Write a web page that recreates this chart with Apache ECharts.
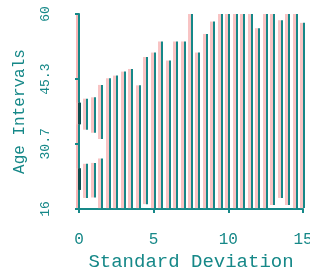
<!DOCTYPE html>
<html>
<head>
<meta charset="utf-8">
<script src="https://cdn.jsdelivr.net/npm/echarts@6/dist/echarts.min.js"></script>
<style>
  html, body { margin: 0; padding: 0; background: #fff; }
  #chart { width: 310px; height: 271px; }
</style>
</head>
<body>
<div id="chart"></div>
<script>
// 每条竖线: 标准差位置, 年龄区间下限, 上限
const sdX = [0, 0, 0.5, 0.5, 1, 1, 1.5, 1.5, 2, 2.5, 3, 3.5, 4, 4.5, 5, 5.5, 6, 6.5, 7, 7.5,
  8, 8.5, 9, 9.5, 10, 10.5, 11, 11.5, 12, 12.5, 13, 13.5, 14, 14.5, 15];
const ageLow = [35.1, 20.3, 33.9, 18.5, 33.2, 18.6, 31.8, 16.2, 16.2, 16.2, 16.2, 16.2, 16.2, 17.1, 16.2, 16.2, 16.2, 16.2, 16.2, 16.2,
  16.2, 16.2, 16.2, 16.2, 16.2, 16.2, 16.2, 16.2, 16.2, 16.2, 16.9, 18.5, 16.9, 16.2, 16.2];
const ageHigh = [40, 25.2, 40.9, 26.2, 41.2, 26.4, 44, 27.4, 45.5, 46.1, 47.0, 47.6, 43.9, 50.3, 51.3, 53.8, 49.5, 53.8, 53.8, 60,
  51.3, 55.5, 58.3, 60, 60, 60, 60, 60, 56.8, 60, 60, 58.6, 60, 60, 58];
const yTicks = [16, 30.7, 45.3, 60];

const teal = '#168888';
const pink = '#f8c4c4';
const fringe = 'rgba(240,120,120,0.55)';
const monoFont = '"Liberation Mono", "DejaVu Sans Mono", monospace';

const chart = echarts.init(document.getElementById('chart'));

const textBase = { fontFamily: monoFont, color: teal, textShadowColor: fringe, textShadowOffsetX: -2 };

const option = {
  animation: false,
  grid: { left: 79, right: 7, top: 14, bottom: 62, containLabel: false, outerBoundsMode: 'none' },
  xAxis: {
    type: 'value', min: 0, max: 15, interval: 5,
    name: 'Standard Deviation', nameLocation: 'middle', nameGap: 43,
    nameTextStyle: Object.assign({ fontSize: 19 }, textBase),
    axisLine: { lineStyle: { color: teal, width: 2, shadowColor: fringe, shadowOffsetX: -2 } },
    axisTick: { length: 4, lineStyle: { color: teal, width: 2 } },
    axisLabel: Object.assign({ margin: 23, fontSize: 16 }, textBase),
    splitLine: { show: false }
  },
  yAxis: {
    type: 'value', min: 16, max: 60,
    name: 'Age Intervals', nameLocation: 'middle', nameGap: 51,
    nameTextStyle: Object.assign({ fontSize: 16 }, textBase),
    axisLine: { lineStyle: { color: teal, width: 2, shadowColor: fringe, shadowOffsetX: -2 } },
    axisTick: { length: 4, customValues: yTicks, lineStyle: { color: teal, width: 2 } },
    axisLabel: Object.assign({ rotate: 90, margin: 27, customValues: yTicks, fontSize: 13 }, textBase),
    splitLine: { show: false }
  },
  series: [{
    type: 'custom',
    clip: false,
    data: sdX.map((x, i) => [x, ageLow[i], ageHigh[i]]),
    renderItem: function (params, api) {
      const top = api.coord([api.value(0), api.value(2)]);
      const bot = api.coord([api.value(0), api.value(1)]);
      const x = Math.round(top[0]) + 1;
      const onAxis = api.value(0) === 0;
      return {
        type: 'group',
        children: [
          { type: 'rect', shape: { x: x - 4, y: top[1], width: 3, height: bot[1] - top[1] }, style: { fill: pink } },
          { type: 'rect', shape: { x: x - (onAxis ? 2 : 1), y: top[1], width: onAxis ? 3 : 2, height: bot[1] - top[1] },
            style: { fill: onAxis ? '#0d4f4f' : teal } }
        ]
      };
    }
  }]
};

chart.setOption(option);
</script>
</body>
</html>
